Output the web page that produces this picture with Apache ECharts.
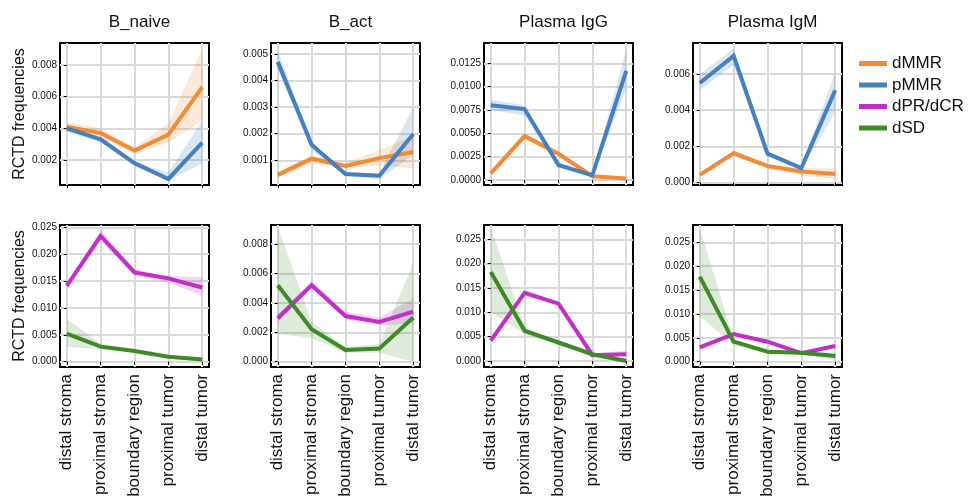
<!DOCTYPE html>
<html>
<head>
<meta charset="utf-8">
<script src="https://cdn.jsdelivr.net/npm/echarts@6/dist/echarts.min.js"></script>
<style>
  html, body { margin: 0; padding: 0; background: #fff; }
  #chart { width: 968px; height: 500px; }
</style>
</head>
<body>
<div id="chart"></div>
<script>
// x categories and panel titles
var categories = ['distal stroma', 'proximal stroma', 'boundary region', 'proximal tumor', 'distal tumor'];
var cellTypes = ['B_naive', 'B_act', 'Plasma IgG', 'Plasma IgM'];

// top row: one row per cell type (B_naive, B_act, Plasma IgG, Plasma IgM)
var dMMR = [
  [0.0041, 0.0037, 0.0026, 0.0036, 0.0066],
  [0.00045, 0.00106, 0.00079, 0.00108, 0.00131],
  [0.0007, 0.0047, 0.0028, 0.0004, 0.00015],
  [0.00043, 0.00162, 0.00092, 0.00061, 0.00048]
];
var dMMR_lo = [
  [0.0038, 0.0034, 0.0024, 0.0031, 0.0045],
  [0.00033, 0.0009, 0.0007, 0.0008, 0.0007],
  [0.0005, 0.0044, 0.0026, 0.0003, 0.0001],
  [0.0003, 0.0015, 0.0008, 0.0004, 0.0002]
];
var dMMR_hi = [
  [0.0044, 0.0040, 0.0028, 0.0043, 0.0090],
  [0.00057, 0.0012, 0.0009, 0.0014, 0.0019],
  [0.0009, 0.0050, 0.0030, 0.0005, 0.0002],
  [0.0005, 0.0018, 0.0010, 0.0008, 0.0008]
];
var pMMR = [
  [0.0040, 0.0033, 0.0018, 0.0008, 0.0031],
  [0.0047, 0.00158, 0.00048, 0.00042, 0.00199],
  [0.0080, 0.0076, 0.0016, 0.0005, 0.0117],
  [0.0055, 0.0070, 0.0016, 0.0008, 0.0051]
];
var pMMR_lo = [
  [0.0038, 0.0031, 0.0017, 0.0007, 0.0018],
  [0.0044, 0.0014, 0.0004, 0.0003, 0.0012],
  [0.0075, 0.0069, 0.0013, 0.0004, 0.0098],
  [0.0051, 0.0065, 0.0015, 0.0007, 0.0039]
];
var pMMR_hi = [
  [0.0041, 0.0034, 0.0019, 0.0012, 0.0045],
  [0.0051, 0.0017, 0.00055, 0.0005, 0.0030],
  [0.0086, 0.0080, 0.0018, 0.0006, 0.0140],
  [0.0060, 0.0074, 0.0017, 0.0009, 0.0061]
];

// bottom row
var dPR = [
  [0.0141, 0.0234, 0.0166, 0.0155, 0.0138],
  [0.00295, 0.0052, 0.0031, 0.0027, 0.0034],
  [0.0042, 0.0140, 0.0118, 0.0012, 0.0014],
  [0.0030, 0.0058, 0.0042, 0.0018, 0.0033]
];
var dPR_lo = [
  [0.0137, 0.0225, 0.0160, 0.0148, 0.0122],
  [0.0027, 0.0050, 0.0029, 0.0025, 0.0026],
  [0.0040, 0.0135, 0.0113, 0.0010, 0.0012],
  [0.0028, 0.0055, 0.0039, 0.0015, 0.0029]
];
var dPR_hi = [
  [0.0145, 0.0245, 0.0172, 0.0160, 0.0157],
  [0.0032, 0.0055, 0.0034, 0.0030, 0.0043],
  [0.0044, 0.0146, 0.0122, 0.0016, 0.0021],
  [0.0032, 0.0061, 0.0045, 0.0020, 0.0037]
];
var dSD = [
  [0.0052, 0.0028, 0.0020, 0.0009, 0.0004],
  [0.0052, 0.0022, 0.0008, 0.0009, 0.0030],
  [0.0183, 0.0062, 0.0038, 0.0014, 0.0000],
  [0.0178, 0.0042, 0.0021, 0.0019, 0.0012]
];
var dSD_lo = [
  [0.0028, 0.0022, 0.0018, 0.0007, 0.0002],
  [0.0019, 0.0016, 0.0006, 0.0006, 0.0000],
  [0.0100, 0.0055, 0.0033, 0.0012, -0.0001],
  [0.0095, 0.0035, 0.0017, 0.0014, 0.0004]
];
var dSD_hi = [
  [0.0080, 0.0034, 0.0023, 0.0011, 0.0008],
  [0.0092, 0.0027, 0.0010, 0.0012, 0.0067],
  [0.0275, 0.0070, 0.0042, 0.0017, 0.0002],
  [0.0280, 0.0048, 0.0025, 0.0023, 0.0019]
];

// y tick labels per panel (top row first, then bottom row)
var yTicks = [
  [0.002, 0.004, 0.006, 0.008],
  [0.001, 0.002, 0.003, 0.004, 0.005],
  [0, 0.0025, 0.005, 0.0075, 0.01, 0.0125],
  [0, 0.002, 0.004, 0.006],
  [0, 0.005, 0.01, 0.015, 0.02, 0.025],
  [0, 0.002, 0.004, 0.006, 0.008],
  [0, 0.005, 0.01, 0.015, 0.02, 0.025],
  [0, 0.005, 0.01, 0.015, 0.02, 0.025]
];
var yDigits = [3, 3, 4, 3, 3, 3, 3, 3];
var yMin = [0.00042, 0.00007, -0.00054, -0.00013, -0.00099, -0.00036, -0.00123, -0.0011];
var yMax = [0.00939, 0.00541, 0.01468, 0.00771, 0.02543, 0.00929, 0.02794, 0.02862];

var colors = {
  'dMMR': ['#F08C37', 'rgba(240,140,55,0.2)'],
  'pMMR': ['#4580BF', 'rgba(69,128,191,0.2)'],
  'dPR/dCR': ['#C12FC9', 'rgba(193,47,201,0.2)'],
  'dSD': ['#3D8A26', 'rgba(61,138,38,0.17)']
};

var fontFamily = '"Liberation Sans", Arial, sans-serif';
var panelLeft = [60, 271, 484, 693];
var panelTop = [43, 225];
var panelW = 149, panelH = 142;

var myChart = echarts.init(document.getElementById('chart'));

var grids = [], xAxes = [], yAxes = [], series = [], titles = [];

function pairs(arr) {
  return arr.map(function (v, i) { return [i, v]; });
}

// ribbon between lo and hi, drawn as one polygon through the axis scales
function bandSeries(p, name, lo, hi) {
  return {
    type: 'custom', name: name + ' band', xAxisIndex: p, yAxisIndex: p,
    data: pairs(lo).concat(pairs(hi)), silent: true, z: 1,
    renderItem: function (params, api) {
      if (params.dataIndex !== 0) return;
      var pts = [];
      for (var i = 0; i < hi.length; i++) pts.push(api.coord([i, hi[i]]));
      for (var j = lo.length - 1; j >= 0; j--) pts.push(api.coord([j, lo[j]]));
      return { type: 'polygon', shape: { points: pts }, style: { fill: colors[name][1] } };
    }
  };
}

for (var p = 0; p < 8; p++) {
  var row = p < 4 ? 0 : 1;
  var col = p % 4;
  grids.push({
    left: panelLeft[col], top: panelTop[row], width: panelW, height: panelH,
    show: true, borderColor: '#000', borderWidth: 2, backgroundColor: 'transparent',
    containLabel: false, outerBoundsMode: 'none'
  });
  xAxes.push({
    type: 'value', gridIndex: p, min: -0.2, max: 4.2,
    axisLine: { show: false },
    axisTick: { show: true, length: 3, customValues: [0, 1, 2, 3, 4], lineStyle: { color: '#000', width: 1 } },
    axisLabel: {
      show: row === 1, customValues: [0, 1, 2, 3, 4], rotate: 90, margin: 7,
      fontSize: 17, color: '#111', fontFamily: fontFamily,
      formatter: function (v) { return categories[Math.round(v)]; }
    },
    splitLine: { show: true, lineStyle: { color: '#d9d9d9', width: 2 } }
  });
  (function (digits) {
    yAxes.push({
      type: 'value', gridIndex: p, min: yMin[p], max: yMax[p],
      axisLine: { show: false },
      axisTick: { show: true, length: 3, customValues: yTicks[p], lineStyle: { color: '#000', width: 1 } },
      axisLabel: {
        customValues: yTicks[p], margin: 3, fontSize: 10, color: '#111', fontFamily: fontFamily,
        formatter: function (v) { return v.toFixed(digits); }
      },
      splitLine: { show: true, lineStyle: { color: '#d9d9d9', width: 2 } },
      name: col === 0 ? 'RCTD frequencies' : '',
      nameLocation: 'middle', nameGap: 30, nameRotate: 90,
      nameTextStyle: { fontSize: 16, color: '#111', fontFamily: fontFamily }
    });
  })(yDigits[p]);

  var groups = row === 0
    ? [['dMMR', dMMR, dMMR_lo, dMMR_hi], ['pMMR', pMMR, pMMR_lo, pMMR_hi]]
    : [['dPR/dCR', dPR, dPR_lo, dPR_hi], ['dSD', dSD, dSD_lo, dSD_hi]];

  // ribbons first so the lines sit on top
  groups.forEach(function (g) {
    series.push(bandSeries(p, g[0], g[2][col], g[3][col]));
  });
  groups.forEach(function (g) {
    var name = g[0];
    series.push({
      type: 'line', name: name, xAxisIndex: p, yAxisIndex: p,
      data: pairs(g[1][col]),
      symbol: 'none',
      itemStyle: { color: colors[name][0] },
      lineStyle: { color: colors[name][0], width: 4, join: 'miter' },
      z: 3
    });
  });

  if (row === 0) {
    titles.push({
      text: cellTypes[col], left: panelLeft[col] + panelW / 2, top: 9, textAlign: 'center',
      textStyle: { fontSize: 17, fontWeight: 'normal', color: '#111', fontFamily: fontFamily }
    });
  }
}

myChart.setOption({
  animation: false,
  textStyle: { fontFamily: fontFamily },
  title: titles,
  legend: {
    data: ['dMMR', 'pMMR', 'dPR/dCR', 'dSD'],
    orient: 'vertical', left: 854, top: 50,
    icon: 'rect', itemWidth: 28, itemHeight: 5, itemGap: 4.5,
    textStyle: { fontSize: 17, color: '#111', fontFamily: fontFamily }
  },
  grid: grids,
  xAxis: xAxes,
  yAxis: yAxes,
  series: series
});
</script>
</body>
</html>
